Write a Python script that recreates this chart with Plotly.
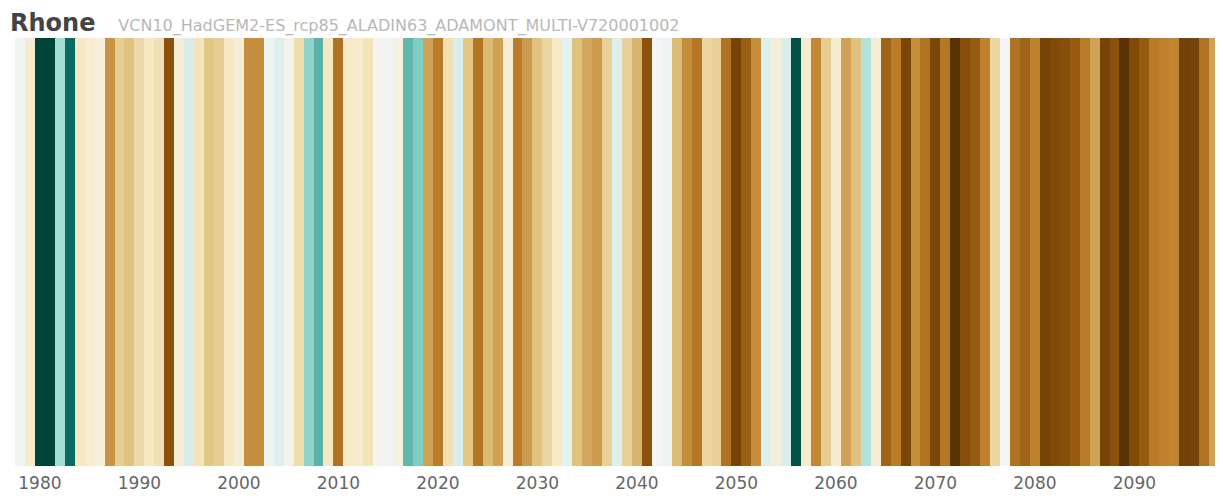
import plotly.graph_objects as go

years = list(range(1978, 2099))
values = [
    0.1, -0.8,                                                     # 1978-1979
    4.8, 4.8, 1.5, 3.9, -1.0, -0.7, -0.5, -2.7, -1.7, -2.0,        # 1980-1989
    -1.4, -1.0, -1.2, -4.0, -0.6, 0.6, -1.1, -1.9, -1.7, -1.0,     # 1990-1999
    -0.6, -2.8, -2.8, 0.2, 0.5, -0.2, -1.3, 1.8, 2.5, -1.0,        # 2000-2009
    -3.3, -0.9, -0.8, -1.1, -0.1, 0.1, -0.4, 2.4, 2.0, -2.5,       # 2010-2019
    -3.1, -1.2, 0.6, -1.9, -3.2, -2.1, -2.5, -0.6, -3.1, -2.6,     # 2020-2029
    -2.0, -1.5, -0.95, 0.4, -2.0, -2.4, -2.6, -1.6, 0.5, -1.6,     # 2030-2039
    -2.2, -4.0, 0.0, 0.2, -2.1, -2.8, -3.2, -1.5, -1.6, -3.3,      # 2040-2049
    -4.4, -3.7, -2.8, 0.5, -0.6, 0.6, 4.5, -0.8, -2.9, -1.7,       # 2050-2059
    -0.7, -2.5, -2.0, 1.3, -0.6, -3.6, -3.1, -4.3, -2.8, -3.3,     # 2060-2069
    -4.3, -3.2, -4.9, -4.1, -3.8, -3.0, -1.5, 0.0, -3.3, -3.6,     # 2070-2079
    -3.0, -4.4, -4.2, -4.1, -3.8, -3.1, -2.5, -4.4, -4.0, -4.9,    # 2080-2089
    -4.2, -3.8, -3.1, -3.0, -2.95, -4.5, -4.4, -3.3, -2.5,         # 2090-2098
]
tick_years = list(range(1980, 2100, 10))
tick_labels = [str(y) for y in tick_years]
title_text = "Rhone"
subtitle_text = "VCN10_HadGEM2-ES_rcp85_ALADIN63_ADAMONT_MULTI-V720001002"

fig = go.Figure(
    go.Heatmap(
        z=[values],
        x=years,
        y=[0],
        colorscale="BrBG",
        zmin=-5,
        zmax=5,
        showscale=False,
        hoverinfo="x+z",
    )
)

# page body has an 8px default margin, so the figure is sized/offset to compensate
W, H = 1215, 488
fig.update_layout(
    width=W,
    height=H,
    margin=dict(l=7, r=4, t=30, b=30, autoexpand=False),
    paper_bgcolor="white",
    plot_bgcolor="white",
    font=dict(family="DejaVu Sans", color="#666666"),
    title=dict(
        text=f"<b>{title_text}</b>   <span style='font-size:16px;color:#b8b8b8'>{subtitle_text}</span>",
        font=dict(family="DejaVu Sans", size=24, color="#444444"),
        xref="container",
        yref="container",
        x=2 / W,
        xanchor="left",
        y=1 - 15 / H,
        yanchor="middle",
        automargin=False,
    ),
    xaxis=dict(
        range=[1977.5, 2098.5],
        tickvals=tick_years,
        ticktext=tick_labels,
        showgrid=False,
        zeroline=False,
        showline=False,
        ticks="outside",
        ticklen=2,
        tickcolor="rgba(0,0,0,0)",
        automargin=False,
        tickfont=dict(size=17, color="#666666"),
    ),
    yaxis=dict(visible=False, range=[-0.5, 0.5], automargin=False),
)

fig.write_html("out.html")
